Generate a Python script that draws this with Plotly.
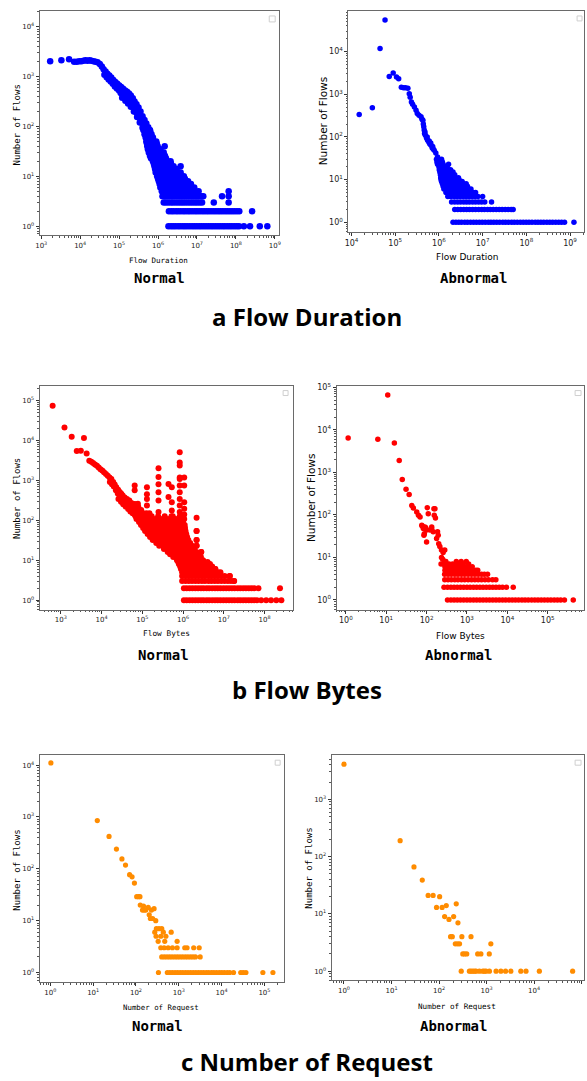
import plotly.graph_objects as go

W, H = 587, 1081

# ===================== a) Flow Duration : Normal =====================
dur_norm_curve_x = [1.7e3, 3.3e3, 5.2e3, 7.0e3, 8.2e3, 9.5e3, 1.08e4, 1.22e4, 1.38e4, 1.55e4, 1.75e4, 1.95e4, 2.2e4, 2.5e4, 2.8e4,
                    3.2e4, 3.6e4, 4.0e4, 4.5e4, 5.0e4, 5.6e4, 6.3e4, 7.1e4, 8.0e4, 9.0e4, 1.01e5, 1.13e5, 1.27e5, 1.43e5, 1.6e5,
                    1.8e5, 2.0e5, 2.25e5, 2.5e5, 2.8e5, 3.15e5, 3.55e5, 4.0e5, 4.5e5, 5.0e5, 5.6e5, 6.3e5,
                    4.2e4, 4.8e4, 5.4e4, 6.1e4, 6.9e4, 7.8e4, 8.8e4, 1.0e5, 1.1e5, 1.3e5, 1.5e5, 1.7e5, 1.95e5, 2.2e5, 2.5e5,
                    2.8e5, 3.2e5, 3.6e5, 4.1e5, 4.6e5, 5.2e5, 5.8e5, 6.5e5,
                    1.2e5, 1.45e5, 1.7e5, 2.0e5, 2.4e5, 2.9e5, 3.4e5, 4.0e5, 4.6e5, 5.3e5, 6.0e5, 6.8e5, 7.6e5]
dur_norm_curve_y = [2050, 2150, 2250, 2000, 2000, 2050, 2050, 2100, 2150, 2100, 2150, 2100, 2050, 2000, 1950,
                    1800, 1600, 1420, 1270, 1150, 1060, 960, 860, 780, 720, 670, 620, 575, 530, 500,
                    460, 420, 370, 320, 280, 240, 200, 160, 135, 115, 97, 80,
                    1100, 980, 880, 800, 720, 640, 580, 530, 470, 420, 380, 340, 300, 260, 220,
                    190, 160, 130, 110, 92, 78, 66, 56,
                    380, 330, 290, 250, 200, 155, 120, 95, 78, 63, 53, 45, 38]
dur_norm_rows = {
    85: [4.2e5, 4.9e5, 5.6e5, 6.2e5],
    70: [4.5e5, 5.2e5, 6.0e5, 6.8e5],
    60: [4.8e5, 5.5e5, 6.4e5, 7.4e5],
    50: [5.0e5, 5.8e5, 6.7e5, 7.8e5, 9.0e5],
    45: [5.2e5, 6.0e5, 6.9e5, 8.0e5, 9.3e5],
    40: [5.3e5, 6.2e5, 7.2e5, 8.4e5, 9.8e5, 1.48e6],
    35: [5.5e5, 6.4e5, 7.5e5, 8.7e5, 1.02e6, 1.15e6],
    30: [5.8e5, 6.7e5, 7.8e5, 9.0e5, 1.05e6, 1.22e6, 1.4e6],
    26: [6.2e5, 7.1e5, 8.2e5, 9.5e5, 1.1e6, 1.27e6, 1.5e6],
    23: [6.6e5, 7.6e5, 8.8e5, 1.02e6, 1.18e6, 1.37e6, 1.6e6],
    20: [7.4e5, 8.5e5, 9.8e5, 1.13e6, 1.3e6, 1.5e6, 1.75e6, 2.1e6],
    18: [7.8e5, 9.0e5, 1.04e6, 1.2e6, 1.38e6, 1.6e6, 1.85e6, 2.15e6],
    16: [8.1e5, 9.3e5, 1.07e6, 1.24e6, 1.43e6, 1.65e6, 1.9e6, 2.2e6, 2.5e6, 3.8e6],
    14: [8.4e5, 9.7e5, 1.12e6, 1.3e6, 1.5e6, 1.73e6, 2.0e6, 2.3e6, 2.65e6, 3.0e6],
    12: [8.7e5, 1.0e6, 1.16e6, 1.34e6, 1.55e6, 1.8e6, 2.1e6, 2.4e6, 2.8e6, 3.3e6, 3.8e6],
    10: [9.5e5, 1.1e6, 1.27e6, 1.46e6, 1.7e6, 1.95e6, 2.25e6, 2.6e6, 3.0e6, 3.5e6, 4.0e6, 4.6e6],
    9: [1.0e6, 1.15e6, 1.33e6, 1.53e6, 1.77e6, 2.05e6, 2.35e6, 2.7e6, 3.15e6, 3.6e6, 4.2e6, 4.9e6],
    8: [1.05e6, 1.2e6, 1.4e6, 1.6e6, 1.85e6, 2.15e6, 2.5e6, 2.85e6, 3.3e6, 3.8e6, 4.4e6, 5.1e6, 5.9e6],
    7: [1.1e6, 1.27e6, 1.46e6, 1.68e6, 1.95e6, 2.25e6, 2.6e6, 3.0e6, 3.45e6, 4.0e6, 4.6e6, 5.3e6, 6.1e6, 7.0e6],
    6: [1.15e6, 1.33e6, 1.53e6, 1.77e6, 2.05e6, 2.35e6, 2.7e6, 3.15e6, 3.6e6, 4.2e6, 4.8e6, 5.5e6, 6.4e6, 7.4e6, 8.5e6],
    5: [1.25e6, 1.45e6, 1.67e6, 1.92e6, 2.2e6, 2.55e6, 2.95e6, 3.4e6, 3.9e6, 4.5e6, 5.2e6, 6.0e6, 6.9e6, 8.0e6, 9.2e6,
        1.1e7, 6.5e7],
    4: [1.3e6, 1.5e6, 1.73e6, 2.0e6, 2.3e6, 2.65e6, 3.05e6, 3.5e6, 4.05e6, 4.7e6, 5.4e6, 6.2e6, 7.2e6, 8.3e6, 9.6e6,
        1.1e7, 1.3e7, 1.45e7, 4.4e7, 6.5e7],
    3: [1.4e6, 1.6e6, 1.85e6, 2.15e6, 2.45e6, 2.85e6, 3.3e6, 3.8e6, 4.35e6, 5.0e6, 5.8e6, 6.7e6, 7.7e6, 8.9e6, 1.02e7,
        1.18e7, 1.35e7, 2.7e7, 6.5e7],
    2: [1.9e6, 2.2e6, 2.5e6, 2.9e6, 3.3e6, 3.8e6, 4.4e6, 5.0e6, 5.8e6, 6.6e6, 7.6e6, 8.8e6, 1.0e7, 1.15e7, 1.33e7, 1.52e7,
        1.75e7, 2.0e7, 2.3e7, 2.65e7, 3.05e7, 3.5e7, 4.0e7, 4.6e7, 5.3e7, 6.1e7, 7.0e7, 8.0e7, 9.2e7, 1.06e8, 1.22e8, 2.6e8],
    1: [1.85e6, 2.15e6, 2.45e6, 2.8e6, 3.25e6, 3.7e6, 4.3e6, 4.9e6, 5.6e6, 6.5e6, 7.5e6, 8.6e6, 9.9e6, 1.14e7, 1.3e7, 1.5e7,
        1.72e7, 1.98e7, 2.28e7, 2.6e7, 3.0e7, 3.45e7, 3.95e7, 4.55e7, 5.2e7, 6.0e7, 6.9e7, 7.9e7, 9.1e7, 1.05e8, 1.2e8,
        1.6e8, 2.3e8, 4.1e8, 6.4e8],
}

# ===================== a) Flow Duration : Abnormal =====================
dur_abn_curve_x = [1.5e4, 3.0e4, 4.5e4, 5.85e4, 7.3e4, 9.0e4, 1.07e5, 1.2e5, 1.38e5, 1.55e5, 1.72e5, 1.95e5, 2.1e5, 2.2e5,
                   2.35e5, 2.5e5, 2.75e5, 3.0e5, 3.2e5, 3.5e5, 3.9e5, 4.1e5, 4.3e5, 4.4e5, 4.5e5, 4.6e5, 4.7e5, 4.9e5,
                   5.2e5, 5.5e5, 5.9e5, 6.2e5, 6.6e5, 7.0e5, 7.4e5, 7.8e5, 8.5e5, 9.3e5, 4.8e5, 5.4e5, 6.0e5, 6.5e5, 7.2e5]
dur_abn_curve_y = [333, 480, 11700, 55000, 2600, 3150, 2520, 2300, 1450, 1420, 1420, 1380, 1030, 850,
                   660, 580, 505, 420, 352, 320, 295, 260, 245, 200, 173, 145, 120, 110,
                   95, 84, 75, 68, 64, 56, 52, 49, 42, 34, 130, 100, 80, 72, 60]
dur_abn_rows = {
    30: [8.8e5, 1.0e6, 1.15e6],
    26: [9.0e5, 1.05e6, 1.2e6],
    23: [9.3e5, 1.08e6, 1.25e6, 1.66e6],
    20: [1.0e6, 1.15e6, 1.35e6, 1.55e6],
    17: [1.02e6, 1.18e6, 1.38e6, 1.6e6, 1.85e6],
    15: [1.05e6, 1.22e6, 1.42e6, 1.65e6, 1.9e6, 2.1e6],
    13: [1.08e6, 1.25e6, 1.45e6, 1.7e6, 2.0e6, 2.3e6],
    11: [1.1e6, 1.28e6, 1.5e6, 1.75e6, 2.05e6, 2.4e6, 2.8e6],
    10: [1.12e6, 1.3e6, 1.52e6, 1.78e6, 2.1e6, 2.45e6, 2.9e6],
    9: [1.15e6, 1.35e6, 1.58e6, 1.85e6, 2.15e6, 2.5e6, 2.95e6, 3.4e6],
    8: [1.2e6, 1.4e6, 1.65e6, 1.9e6, 2.25e6, 2.6e6, 3.05e6, 3.6e6, 4.2e6],
    7: [1.25e6, 1.45e6, 1.7e6, 2.0e6, 2.35e6, 2.75e6, 3.2e6, 3.8e6, 4.5e6],
    6: [1.3e6, 1.52e6, 1.78e6, 2.1e6, 2.45e6, 2.85e6, 3.35e6, 3.9e6, 4.6e6, 5.4e6],
    5: [1.45e6, 1.7e6, 2.0e6, 2.35e6, 2.75e6, 3.2e6, 3.75e6, 4.4e6, 5.2e6, 6.1e6, 6.9e6],
    4: [1.6e6, 1.85e6, 2.2e6, 2.55e6, 3.0e6, 3.5e6, 4.1e6, 4.8e6, 5.6e6, 6.6e6, 7.8e6, 1.0e7],
    3: [1.95e6, 2.3e6, 2.7e6, 3.15e6, 3.7e6, 4.3e6, 5.0e6, 5.9e6, 6.9e6, 8.1e6, 9.5e6, 1.12e7, 1.6e7],
    2: [2.3e6, 2.7e6, 3.15e6, 3.7e6, 4.3e6, 5.0e6, 5.9e6, 6.9e6, 8.1e6, 9.5e6, 1.1e7, 1.3e7, 1.5e7, 1.75e7, 2.05e7,
        2.4e7, 2.8e7, 3.3e7, 3.85e7, 4.5e7, 5.0e7],
    1: [2.1e6, 2.45e6, 2.85e6, 3.3e6, 3.9e6, 4.5e6, 5.3e6, 6.2e6, 7.2e6, 8.4e6, 9.8e6, 1.15e7, 1.35e7, 1.55e7, 1.8e7,
        2.1e7, 2.45e7, 2.9e7, 3.35e7, 3.9e7, 4.6e7, 5.3e7, 6.2e7, 7.3e7, 8.5e7, 9.9e7, 1.15e8, 1.35e8, 1.6e8, 1.85e8,
        2.15e8, 2.5e8, 2.95e8, 3.45e8, 4.0e8, 4.7e8, 5.5e8, 6.4e8, 7.5e8, 1.23e9],
}

# ===================== b) Flow Bytes : Normal =====================
bytes_norm_curve_x = [630, 1.23e3, 1.85e3, 2.46e3, 3.1e3, 3.7e3, 4.3e3, 5.0e3, 5.6e3, 6.2e3, 6.9e3, 7.7e3, 8.5e3, 9.4e3,
                      1.04e4, 1.15e4, 1.28e4, 1.42e4, 1.57e4, 1.74e4, 1.93e4, 2.1e4, 2.3e4, 2.55e4, 2.8e4, 3.05e4,
                      3.3e4, 3.7e4, 4.2e4, 4.8e4, 5.4e4, 6.1e4, 6.9e4,
                      1.6e4, 1.8e4, 2.0e4, 2.25e4, 2.5e4, 2.8e4, 3.1e4, 3.5e4, 3.9e4, 4.4e4, 5.0e4, 5.6e4, 6.3e4,
                      2.6e4, 3.0e4, 3.4e4, 3.9e4, 4.5e4, 5.1e4, 5.8e4, 6.5e4]
bytes_norm_curve_y = [73000, 21000, 12300, 5400, 5500, 11400, 4700, 3100, 2900, 2700, 2500, 2300, 2100, 1900,
                      1750, 1600, 1440, 1300, 1180, 1070, 900, 780, 670, 580, 510, 460,
                      415, 370, 340, 310, 270, 240, 235,
                      900, 800, 700, 560, 470, 400, 350, 310, 280, 250, 220, 200, 180,
                      340, 290, 250, 220, 190, 165, 150, 140]
bytes_norm_spike_x = [6.5e4, 6.5e4, 7.8e4, 1.3e5, 1.3e5, 1.3e5, 1.3e5, 2.5e5, 2.5e5, 2.5e5, 2.5e5, 2.5e5, 2.5e5,
                      4.4e5, 4.4e5, 5.3e5, 5.3e5, 5.3e5, 8.3e5, 8.3e5, 8.3e5, 8.3e5, 8.3e5, 8.3e5, 8.3e5, 8.3e5,
                      8.3e5, 8.3e5, 1.07e6, 1.07e6, 1.07e6, 1.07e6, 1.07e6, 2.15e6, 2.15e6, 2.15e6, 2.15e6, 2.8e6,
                      6.2e6, 1.4e7, 1.78e7]
bytes_norm_spike_y = [740, 560, 257, 670, 450, 340, 235, 2000, 1200, 800, 500, 310, 160,
                      810, 380, 670, 280, 175, 5000, 2800, 2340, 1180, 1070, 740, 500, 340,
                      235, 160, 1180, 740, 280, 195, 140, 115, 54, 32, 23, 16,
                      6, 4, 3]
bytes_norm_rows = {
    255: [4.2e4, 5.0e4, 6.0e4, 6.6e4],
    215: [4.8e4, 5.8e4, 7.0e4, 8.0e4],
    180: [5.4e4, 6.5e4, 7.8e4, 9.4e4],
    150: [6.0e4, 7.2e4, 8.7e4, 1.05e5, 1.26e5, 1.5e5],
    125: [6.8e4, 8.1e4, 9.8e4, 1.17e5, 1.41e5, 1.7e5, 2.45e5, 3.55e5, 5.2e5, 5.6e5, 8.3e5],
    107: [7.2e4, 8.7e4, 1.05e5, 1.26e5, 1.51e5, 1.82e5, 2.2e5, 2.6e5, 3.15e5, 3.8e5, 4.6e5, 5.5e5, 6.6e5, 7.9e5,
          9.5e5, 1.07e6],
    90: [8.3e4, 1.0e5, 1.2e5, 1.45e5, 1.74e5, 2.1e5, 2.5e5, 3.0e5, 3.6e5, 4.4e5, 5.2e5, 6.3e5, 7.6e5, 9.1e5, 1.0e6],
    76: [9.3e4, 1.12e5, 1.35e5, 1.62e5, 1.95e5, 2.34e5, 2.8e5, 3.4e5, 4.1e5, 4.9e5, 5.9e5, 7.1e5, 8.5e5, 1.02e6, 1.1e6],
    64: [1.05e5, 1.26e5, 1.51e5, 1.82e5, 2.2e5, 2.6e5, 3.15e5, 3.8e5, 4.6e5, 5.5e5, 6.6e5, 7.9e5, 9.5e5, 1.12e6],
    54: [1.17e5, 1.41e5, 1.7e5, 2.04e5, 2.45e5, 2.95e5, 3.55e5, 4.3e5, 5.1e5, 6.2e5, 7.4e5, 8.9e5, 1.07e6, 1.15e6, 2.15e6],
    45: [1.35e5, 1.62e5, 1.95e5, 2.34e5, 2.8e5, 3.4e5, 4.1e5, 4.9e5, 5.9e5, 7.1e5, 8.5e5, 1.02e6, 1.2e6],
    38: [1.55e5, 1.86e5, 2.24e5, 2.7e5, 3.2e5, 3.9e5, 4.7e5, 5.6e5, 6.8e5, 8.1e5, 9.8e5, 1.2e6, 1.26e6],
    32: [1.8e5, 2.2e5, 2.6e5, 3.15e5, 3.8e5, 4.6e5, 5.5e5, 6.6e5, 7.9e5, 9.5e5, 1.15e6, 1.35e6, 2.15e6],
    27: [2.2e5, 2.6e5, 3.15e5, 3.8e5, 4.6e5, 5.5e5, 6.6e5, 7.9e5, 9.5e5, 1.15e6, 1.38e6, 1.5e6],
    23: [2.6e5, 3.15e5, 3.8e5, 4.6e5, 5.5e5, 6.6e5, 7.9e5, 9.5e5, 1.15e6, 1.38e6, 1.66e6, 2.15e6],
    19: [3.4e5, 4.1e5, 4.9e5, 5.9e5, 7.1e5, 8.5e5, 1.02e6, 1.23e6, 1.48e6, 1.78e6, 1.9e6],
    16: [4.2e5, 5.0e5, 6.0e5, 7.2e5, 8.7e5, 1.05e6, 1.26e6, 1.51e6, 1.82e6, 2.15e6, 2.8e6],
    14: [4.8e5, 5.75e5, 6.9e5, 8.3e5, 1.0e6, 1.2e6, 1.45e6, 1.74e6, 2.1e6, 2.4e6],
    12: [5.75e5, 6.9e5, 8.3e5, 1.0e6, 1.2e6, 1.45e6, 1.74e6, 2.1e6, 2.5e6, 2.75e6],
    10: [7.1e5, 8.5e5, 1.02e6, 1.23e6, 1.48e6, 1.78e6, 2.14e6, 2.57e6, 3.1e6],
    9: [7.6e5, 9.1e5, 1.1e6, 1.32e6, 1.58e6, 1.9e6, 2.3e6, 2.75e6, 3.3e6, 4.0e6],
    8: [7.9e5, 9.5e5, 1.15e6, 1.38e6, 1.66e6, 2.0e6, 2.4e6, 2.9e6, 3.45e6, 4.2e6, 4.6e6],
    7: [8.5e5, 1.02e6, 1.23e6, 1.48e6, 1.78e6, 2.14e6, 2.57e6, 3.1e6, 3.7e6, 4.5e6, 5.2e6],
    6: [8.9e5, 1.07e6, 1.29e6, 1.55e6, 1.86e6, 2.24e6, 2.7e6, 3.2e6, 3.9e6, 4.7e6, 6.2e6],
    5: [9.5e5, 1.15e6, 1.38e6, 1.66e6, 2.0e6, 2.4e6, 2.9e6, 3.45e6, 4.2e6, 5.0e6, 6.0e6, 7.2e6, 8.3e6],
    4: [9.5e5, 1.15e6, 1.38e6, 1.66e6, 2.0e6, 2.4e6, 2.9e6, 3.45e6, 4.2e6, 5.0e6, 6.0e6, 7.2e6, 8.7e6, 1.05e7, 1.41e7],
    3: [9.5e5, 1.15e6, 1.38e6, 1.66e6, 2.0e6, 2.4e6, 2.9e6, 3.45e6, 4.2e6, 5.0e6, 6.0e6, 7.2e6, 8.7e6, 1.05e7, 1.26e7,
        1.5e7, 1.8e7],
    2: [1.05e6, 1.23e6, 1.45e6, 1.7e6, 2.0e6, 2.35e6, 2.75e6, 3.2e6, 3.8e6, 4.4e6, 5.2e6, 6.1e6, 7.1e6, 8.3e6, 9.8e6,
        1.15e7, 1.35e7, 1.58e7, 1.85e7, 2.2e7, 2.55e7, 3.0e7, 3.5e7, 4.1e7, 4.8e7, 5.6e7, 7.1e7, 2.4e8],
    1: [1.05e6, 1.23e6, 1.45e6, 1.7e6, 2.0e6, 2.35e6, 2.75e6, 3.2e6, 3.8e6, 4.4e6, 5.2e6, 6.1e6, 7.1e6, 8.3e6, 9.8e6,
        1.15e7, 1.35e7, 1.58e7, 1.85e7, 2.2e7, 2.55e7, 3.0e7, 3.5e7, 4.1e7, 4.8e7, 5.6e7, 6.5e7, 8.3e7, 1.1e8, 1.45e8,
        1.95e8, 2.6e8],
}

# ===================== b) Flow Bytes : Abnormal =====================
bytes_abn_curve_x = [1.14, 6.2, 10.9, 15.9, 21, 25, 31, 37, 43, 47, 57, 63, 69, 104, 110, 161, 155, 166, 152,
                     76, 83, 91, 100, 88, 78, 86, 95, 100, 121, 134, 133, 146, 187, 194, 177, 200, 213, 234, 257,
                     282, 234, 250, 228, 265, 290]
bytes_abn_curve_y = [6450, 6000, 66000, 4900, 1900, 680, 400, 303, 167, 145, 117, 98, 89, 148, 107, 140, 98, 85, 140,
                     57, 48, 52, 44, 36, 55, 33, 50, 23, 44, 52, 48, 40, 40, 33, 28, 21, 18, 15, 13,
                     15, 10, 9, 7, 7, 8]
bytes_abn_rows = {
    8: [300, 545, 720, 960],
    7: [290, 360, 440, 530, 650, 800, 1100],
    6: [285, 345, 420, 510, 620, 750, 900, 1100, 1350],
    5: [285, 345, 420, 510, 620, 750, 900, 1100, 1350, 1650, 1850],
    4: [280, 340, 410, 500, 600, 730, 880, 1070, 1300, 1570, 1900, 2300, 2700, 3240],
    3: [282, 340, 410, 500, 600, 730, 880, 1070, 1300, 1570, 1900, 2300, 2800, 3400, 4300, 5200],
    2: [270, 330, 400, 480, 575, 690, 830, 1000, 1200, 1450, 1740, 2090, 2510, 3020, 3630, 4365, 5250, 6300, 7600,
        9500, 14000],
    1: [330, 400, 480, 575, 690, 830, 1000, 1200, 1450, 1740, 2090, 2510, 3020, 3630, 4365, 5250, 6300, 7600, 9100,
        1.1e4, 1.32e4, 1.58e4, 1.9e4, 2.3e4, 2.75e4, 3.3e4, 4.0e4, 4.8e4, 5.75e4, 6.9e4, 8.3e4, 1.0e5, 1.2e5, 1.45e5,
        1.74e5, 2.1e5, 2.6e5, 4.3e5],
}

# ===================== c) Number of Request : Normal =====================
req_norm_curve_x = [1.03, 12.5, 23.5, 35, 47, 57, 71, 81, 92, 104, 115, 124, 126, 142, 150, 156, 170, 193, 204, 230,
                    217, 245, 265, 290, 275, 300, 345, 400, 295, 380, 330, 435, 500, 470, 665, 915]
req_norm_curve_y = [11000, 850, 420, 240, 155, 118, 77, 70, 53, 29, 29, 29, 20, 16, 19, 16, 16, 18, 13, 16,
                    11, 11, 17, 10, 6, 7, 7, 7, 5, 5, 4, 6, 5, 4, 6, 4]
req_norm_rows = {
    3: [380, 455, 565, 710, 915, 1380, 1560, 2230, 3000],
    2: [400, 460, 530, 610, 700, 810, 930, 1070, 1230, 1420, 1630, 1880, 2150, 2450, 3160],
    1: [335, 540, 620, 710, 820, 940, 1080, 1240, 1430, 1640, 1890, 2170, 2500, 2870, 3300, 3800, 4400, 5000, 5800,
        6600, 7600, 8800, 10100, 11600, 13500, 15500, 19000, 28000, 32000, 37000, 92000, 158000],
}

# ===================== c) Number of Request : Abnormal =====================
req_abn_curve_x = [1, 15.2, 29.7, 44.4, 59, 75, 103, 88.5, 116, 142, 131, 162, 203, 230, 250, 175, 190, 302, 470,
                   220, 245, 270, 1230, 316, 345, 383, 650, 760, 1140]
req_abn_curve_y = [4100, 190, 66, 39, 21, 21, 20, 13, 13, 14, 9, 8, 9, 15, 7, 4, 4, 4, 4,
                   3, 3, 3, 3, 2, 2, 2, 2, 2, 2]
req_abn_rows = {
    1: [293, 435, 470, 513, 560, 603, 708, 832, 900, 977, 1150, 1585, 2000, 2510, 3240, 5250, 6760, 12900, 64600],
}

# ===================== layout constants =====================
MONO = "DejaVu Sans Mono"
SANS = "DejaVu Sans"
TITLE_FONT = "Open Sans"


def flatten(cx, cy, rows):
    xs, ys = list(cx), list(cy)
    for yv, xv in rows.items():
        xs += xv
        ys += [yv] * len(xv)
    return xs, ys


panels = [
    dict(data=flatten(dur_norm_curve_x, dur_norm_curve_y, dur_norm_rows), color="#0000ff", size=6.5,
         frame=(36, 278, 7, 232), xr=[2.96, 9.11], yr=[-0.18, 4.32], xe=range(3, 10), ye=range(0, 5), tick=7,
         legend=(268, 274, 12, 18)),
    dict(data=flatten(dur_abn_curve_x, dur_abn_curve_y, dur_abn_rows), color="#0000ff", size=5.5,
         frame=(348, 586, 7, 229), xr=[3.93, 9.32], yr=[-0.23, 4.95], xe=range(4, 10), ye=range(0, 5), tick=8,
         legend=(579, 584, 12, 17)),
    dict(data=flatten(bytes_norm_curve_x + bytes_norm_spike_x, bytes_norm_curve_y + bytes_norm_spike_y,
                      bytes_norm_rows), color="#ff0000", size=6,
         frame=(36, 292, 383, 608), xr=[2.48, 8.70], yr=[-0.24, 5.37], xe=range(3, 9), ye=range(0, 6), tick=7,
         legend=(282, 287, 388, 393)),
    dict(data=flatten(bytes_abn_curve_x, bytes_abn_curve_y, bytes_abn_rows), color="#ff0000", size=5.5,
         frame=(336, 586, 383, 608), xr=[-0.23, 5.90], yr=[-0.23, 5.04], xe=range(0, 6), ye=range(0, 6), tick=8,
         legend=(577, 583, 388, 393)),
    dict(data=flatten(req_norm_curve_x, req_norm_curve_y, req_norm_rows), color="#ff8c00", size=5.2,
         frame=(36, 283, 754, 982), xr=[-0.25, 5.46], yr=[-0.19, 4.19], xe=range(0, 6), ye=range(0, 5), tick=7,
         legend=(274, 279, 759, 764)),
    dict(data=flatten(req_abn_curve_x, req_abn_curve_y, req_abn_rows), color="#ff8c00", size=5.2,
         frame=(331, 586, 754, 980), xr=[-0.26, 5.05], yr=[-0.16, 3.77], xe=range(0, 6), ye=range(0, 4), tick=7,
         legend=(577, 583, 759, 764)),
]


def PX(p):
    return p / W


def PY(p):
    return 1 - p / H


def log_axis(rng, exps, fsize, dom, anchor):
    lo, hi = int(rng[0]) - 1, int(rng[1]) + 1
    minor_vals = [m * 10 ** e for e in range(lo, hi + 1) for m in range(2, 10)]
    return dict(type="log", range=rng, domain=dom, anchor=anchor,
                tickmode="array", tickvals=[10 ** e for e in exps],
                ticktext=[f"10<sup>{e}</sup>" for e in exps],
                ticks="outside", ticklen=3, tickwidth=1, tickcolor="#333",
                tickfont=dict(family=SANS, size=fsize, color="#222"),
                minor=dict(tickmode="array", tickvals=minor_vals, ticks="outside", ticklen=1.5,
                           tickwidth=0.8, tickcolor="#555"),
                showline=True, linecolor="#6a6a6a", linewidth=1, mirror=True,
                showgrid=False, zeroline=False)


fig = go.Figure()
shapes = []
for i, p in enumerate(panels, start=1):
    xs, ys = p["data"]
    sfx = "" if i == 1 else str(i)
    fig.add_trace(go.Scatter(x=xs, y=ys, mode="markers", xaxis="x" + sfx, yaxis="y" + sfx,
                             marker=dict(color=p["color"], size=p["size"], line=dict(width=0)),
                             showlegend=False, hoverinfo="skip"))
    l, r, t, b = p["frame"]
    fig.update_layout(**{
        "xaxis" + sfx: log_axis(p["xr"], p["xe"], p["tick"], [PX(l), PX(r)], "y" + sfx),
        "yaxis" + sfx: log_axis(p["yr"], p["ye"], p["tick"], [PY(b), PY(t)], "x" + sfx),
    })
    lx0, lx1, ly0, ly1 = p["legend"]
    shapes.append(dict(type="rect", xref="paper", yref="paper", x0=PX(lx0), x1=PX(lx1), y0=PY(ly1), y1=PY(ly0),
                       line=dict(color="#cfcfcf", width=1), fillcolor="white"))

texts = [
    ("Flow Duration", 156, 257, MONO, 7.5, "normal", 0),
    ("Normal", 157, 275, MONO, 14, "bold", 0),
    ("Number of Flows", 13, 121, MONO, 9, "normal", -90),
    ("Flow Duration", 468, 254, SANS, 9, "normal", 0),
    ("Abnormal", 474, 275, MONO, 14, "bold", 0),
    ("Number of Flows", 322, 118, SANS, 10.5, "normal", -90),
    ("Flow Bytes", 164, 632, MONO, 7.8, "normal", 0),
    ("Normal", 161, 653, MONO, 14, "bold", 0),
    ("Number of Flows", 13, 496, MONO, 9, "normal", -90),
    ("Flow Bytes", 461, 634, SANS, 9, "normal", 0),
    ("Abnormal", 459, 653, MONO, 14, "bold", 0),
    ("Number of Flows", 310, 496, SANS, 10.5, "normal", -90),
    ("Number of Request", 159, 1007, MONO, 7.4, "normal", 0),
    ("Normal", 155.5, 1026, MONO, 14, "bold", 0),
    ("Number of Flows", 13, 869, MONO, 9, "normal", -90),
    ("Number of Request", 458, 1006, MONO, 7.6, "normal", 0),
    ("Abnormal", 454, 1026, MONO, 14, "bold", 0),
    ("Number of Flows", 308, 867, MONO, 9, "normal", -90),
    ("a Flow Duration", 306, 314, TITLE_FONT, 24, "bold", 0),
    ("b Flow Bytes", 306, 688, TITLE_FONT, 24, "bold", 0),
    ("c Number of Request", 306.5, 1061, TITLE_FONT, 24, "bold", 0),
]
annotations = [dict(text=t, x=PX(x), y=PY(y), xref="paper", yref="paper", xanchor="center", yanchor="middle",
                    showarrow=False, textangle=ang,
                    font=dict(family=fam, size=sz, color="#000", weight=wt))
               for t, x, y, fam, sz, wt, ang in texts]

fig.update_layout(width=W, height=H, autosize=False, margin=dict(l=0, r=0, t=0, b=0),
                  paper_bgcolor="white", plot_bgcolor="white", showlegend=False,
                  shapes=shapes, annotations=annotations)

# remove the browser's default 8px page margin so the figure sits at the window's top-left corner
fig.write_html("out.html", config={"displayModeBar": False},
               post_script="document.body.style.margin='0';document.body.style.overflow='hidden';")
